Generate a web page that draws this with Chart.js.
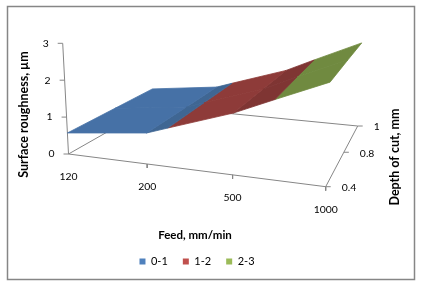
<!DOCTYPE html>
<html>
<head>
<meta charset="utf-8">
<title>Surface roughness</title>
<script src="https://cdn.jsdelivr.net/npm/chart.js@4"></script>
<style>
	html, body { margin: 0; padding: 0; background: #fff; }
	canvas { display: block; }
</style>
</head>
<body>
<canvas id="surfaceChart" width="421" height="285"></canvas>
<script>
const feeds = ['120', '200', '500', '1000'];
const depths = ['0.4', '0.8', '1'];
const roughnessTicks = [0, 1, 2, 3];
const bands = ['0-1', '1-2', '2-3'];
const bandLimits = [[0, 1], [1, 2], [2, 3]];

// surface roughness per feed, one list per depth of cut
const roughnessAt04 = [0.57, 0.81, 1.56, 2.55];
const roughnessAt08 = [0.57, 0.82, 1.57, 2.62];
const roughnessAt10 = [0.57, 0.83, 1.58, 2.68];
const roughness = [roughnessAt04, roughnessAt08, roughnessAt10];

// styles
const legendColors = ['#4F81BD', '#C0504D', '#9BBB59'];
// shaded face colour: [band][feed segment]
const faceColors = [
	['#4671A6', '#3F6693', '#3F6693'],
	['#8E3B39', '#8E3B39', '#7F3533'],
	['#708A40', '#708A40', '#708A40']
];
const axisColor = '#868686';
const tickFont = '10.4px Lato';
const titleFont = 'bold 12.5px Lato';
const feedTitleFont = 'bold 11.5px Lato';

// view of the 3D box: floor corners and the direction of one unit of height there
const floorFL = [68.5, 154], floorFR = [325.7, 186.7], floorBR = [357.7, 126], floorBL = [153, 106];
const riseFL = [-1.93, -36.9], riseFR = [1.7, -41], riseBR = [1.5, -31], riseBL = [-1, -30];

function makeFloorMap() {
	const [x0, y0] = floorFL, [x1, y1] = floorFR, [x2, y2] = floorBR, [x3, y3] = floorBL;
	const dx1 = x1 - x2, dx2 = x3 - x2, sx = x0 - x1 + x2 - x3;
	const dy1 = y1 - y2, dy2 = y3 - y2, sy = y0 - y1 + y2 - y3;
	const det = dx1 * dy2 - dx2 * dy1;
	const g = (sx * dy2 - dx2 * sy) / det;
	const h = (dx1 * sy - sx * dy1) / det;
	return function (u, v) {
		const w = g * u + h * v + 1;
		return [
			((x1 - x0 + g * x1) * u + (x3 - x0 + h * x3) * v + x0) / w,
			((y1 - y0 + g * y1) * u + (y3 - y0 + h * y3) * v + y0) / w
		];
	};
}
const floorMap = makeFloorMap();

// feed index, depth index and height to a point on the hidden screen scales
function project(i, j, z) {
	const u = i / (feeds.length - 1), v = j / (depths.length - 1);
	const p = floorMap(u, v);
	// rise follows the on-screen position between the front and back edges
	const front = floorMap(u, 0), back = floorMap(u, 1);
	const s = (p[1] - front[1]) / (back[1] - front[1]);
	const rise = [0, 1].map(k =>
		(1 - u) * (1 - s) * riseFL[k] + u * (1 - s) * riseFR[k] + u * s * riseBR[k] + (1 - u) * s * riseBL[k]);
	return { x: p[0] + rise[0] * z, y: p[1] + rise[1] * z };
}

// keep the part of a grid cell on one side of a height
function clipHeight(poly, limit, keepAbove) {
	const out = [];
	poly.forEach(function (a, n) {
		const b = poly[(n + 1) % poly.length];
		const aIn = keepAbove ? a.z >= limit : a.z <= limit;
		const bIn = keepAbove ? b.z >= limit : b.z <= limit;
		if (aIn) out.push(a);
		if (aIn !== bIn) {
			const t = (limit - a.z) / (b.z - a.z);
			out.push({ i: a.i + (b.i - a.i) * t, j: a.j + (b.j - a.j) * t, z: limit });
		}
	});
	return out;
}

const datasets = [];

// surface faces come first so they paint over the axes
for (let j = 0; j < depths.length - 1; j++) {
	for (let i = 0; i < feeds.length - 1; i++) {
		const cell = [
			{ i: i, j: j, z: roughness[j][i] },
			{ i: i + 1, j: j, z: roughness[j][i + 1] },
			{ i: i + 1, j: j + 1, z: roughness[j + 1][i + 1] },
			{ i: i, j: j + 1, z: roughness[j + 1][i] }
		];
		bandLimits.forEach(function (limits, b) {
			const part = clipHeight(clipHeight(cell, limits[0], true), limits[1], false);
			if (part.length < 3) return;
			const pts = part.map(p => project(p.i, p.j, p.z));
			pts.push(pts[0]);
			datasets.push({
				data: pts,
				showLine: true,
				fill: 'shape',
				backgroundColor: faceColors[b][i],
				borderColor: faceColors[b][i],
				borderWidth: 0.8,
				pointRadius: 0
			});
		});
	}
}

function addAxisLine(from, to) {
	datasets.push({
		data: [from, to],
		showLine: true,
		fill: false,
		borderColor: axisColor,
		borderWidth: 1,
		pointRadius: 0
	});
}
function shifted(p, dx, dy) {
	return { x: p.x + dx, y: p.y + dy };
}

const lastFeed = feeds.length - 1, lastDepth = depths.length - 1;
addAxisLine(project(0, 0, 0), project(lastFeed, 0, 0));
addAxisLine(project(lastFeed, 0, 0), project(lastFeed, lastDepth, 0));
addAxisLine(project(lastFeed, lastDepth, 0), project(0, lastDepth, 0));
addAxisLine(project(0, lastDepth, 0), project(0, 0, 0));
addAxisLine(project(0, 0, 0), project(0, 0, roughnessTicks[roughnessTicks.length - 1]));
roughnessTicks.forEach(function (t) {
	const p = project(0, 0, t);
	addAxisLine(p, shifted(p, -5, 0));
});
feeds.forEach(function (f, i) {
	if (i === 0) return; // no tick under the corner
	const p = project(i, 0, 0);
	addAxisLine(p, shifted(p, 0, 4));
});
depths.forEach(function (d, j) {
	const p = project(lastFeed, j, 0);
	addAxisLine(p, shifted(p, 5, 0));
});

// frame, tick labels and axis titles
const chartText = {
	id: 'chartText',
	beforeDraw: function (chart) {
		const c = chart.ctx;
		c.save();
		c.strokeStyle = axisColor;
		c.lineWidth = 1.5;
		c.strokeRect(7.5, 6.5, 407, 273);
		c.restore();
	},
	afterDraw: function (chart) {
		const c = chart.ctx, sx = chart.scales.x, sy = chart.scales.y;
		const px = p => [sx.getPixelForValue(p.x), sy.getPixelForValue(p.y)];
		c.save();
		c.fillStyle = '#000';
		c.textBaseline = 'middle';
		c.font = tickFont;

		c.textAlign = 'right';
		roughnessTicks.forEach(function (t) {
			const p = px(project(0, 0, t));
			c.fillText(String(t), p[0] - 14, p[1]);
		});
		c.textAlign = 'center';
		feeds.forEach(function (f, i) {
			const p = px(project(i, 0, 0));
			c.fillText(f, p[0], p[1] + 23);
		});
		c.textAlign = 'left';
		depths.forEach(function (d, j) {
			const p = px(project(lastFeed, j, 0));
			c.fillText(d, p[0] + 16, p[1] + 1);
		});

		c.font = feedTitleFont;
		c.textAlign = 'center';
		c.fillText('Feed, mm/min', 195, 235);
		c.font = titleFont;
		c.save();
		c.translate(24, 114.5);
		c.rotate(-Math.PI / 2);
		c.fillText('Surface roughness, µm', 0, 0);
		c.restore();
		c.save();
		c.translate(395, 157);
		c.rotate(-Math.PI / 2);
		c.fillText('Depth of cut, mm', 0, 0);
		c.restore();
		c.restore();
	}
};

// hidden scales run in screen units, whatever room the legend leaves
function screenRange(scale) {
	scale.min = 0;
	scale.max = scale.isHorizontal() ? scale.maxWidth : scale.maxHeight;
}

new Chart(document.getElementById('surfaceChart'), {
	type: 'scatter',
	data: { datasets: datasets },
	options: {
		responsive: false,
		animation: false,
		layout: { padding: { right: 27, bottom: 8 } },
		scales: {
			x: { type: 'linear', display: false, bounds: 'data', afterDataLimits: screenRange },
			y: { type: 'linear', display: false, bounds: 'data', reverse: true, afterDataLimits: screenRange }
		},
		plugins: {
			tooltip: { enabled: false },
			legend: {
				position: 'bottom',
				labels: {
					boxWidth: 6,
					boxHeight: 6,
					padding: 15,
					color: '#000',
					font: { family: 'Lato', size: 11 },
					generateLabels: function () {
						return bands.map(function (b, n) {
							return { text: b, fillStyle: legendColors[n], strokeStyle: legendColors[n], lineWidth: 0 };
						});
					}
				}
			}
		}
	},
	plugins: [chartText]
});
</script>
</body>
</html>
